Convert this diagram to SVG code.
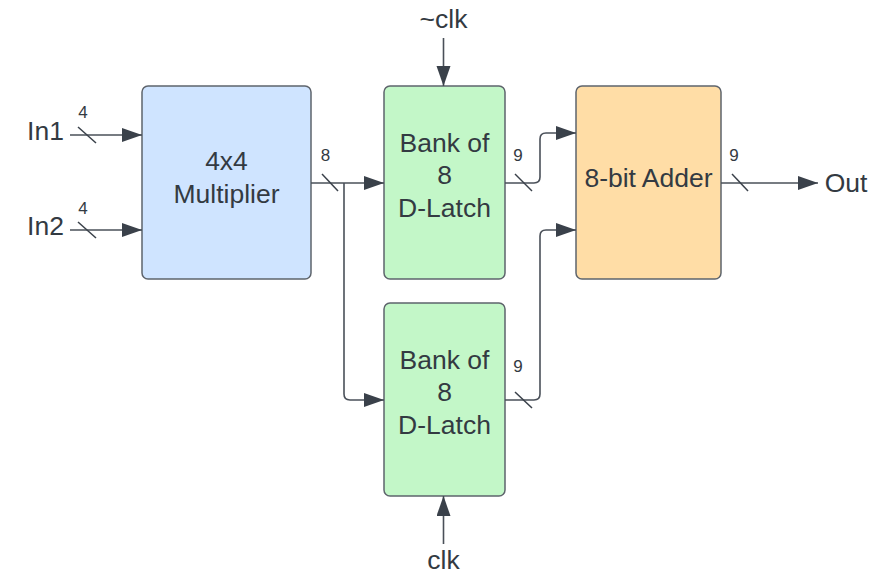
<svg xmlns="http://www.w3.org/2000/svg" width="887" height="576" viewBox="0 0 887 576">
<style>
.box{stroke:#5e646c;stroke-width:1.5}
.t{font-family:"Liberation Sans",Arial,sans-serif;fill:#333a42;font-size:26.5px;text-anchor:middle}
.s{font-family:"Liberation Sans",Arial,sans-serif;fill:#333a42;font-size:17px;text-anchor:middle}
.w{fill:none;stroke:#4a5059;stroke-width:1.6}
.sl{stroke:#3a414a;stroke-width:1.5}
</style>
<defs>
<marker id="ah" markerUnits="userSpaceOnUse" markerWidth="22" markerHeight="16" refX="20" refY="7" orient="auto">
<path d="M0,0 L20,7 L0,14 Z" fill="#3a414a"/>
</marker>
</defs>
<rect width="887" height="576" fill="#ffffff"/>
<g id="multiplier">
<rect class="box" x="142" y="86" width="169" height="193" rx="6" fill="#cfe4ff"/>
<text class="t" x="226.5" y="170">4x4</text>
<text class="t" x="226.5" y="203">Multiplier</text>
</g>
<g id="latch1">
<rect class="box" x="384" y="86" width="121" height="193" rx="6" fill="#c3f7c8"/>
<text class="t" x="444.5" y="152">Bank of</text>
<text class="t" x="444.5" y="184">8</text>
<text class="t" x="444.5" y="217">D-Latch</text>
</g>
<g id="latch2">
<rect class="box" x="384" y="303" width="121" height="193" rx="6" fill="#c3f7c8"/>
<text class="t" x="444.5" y="369">Bank of</text>
<text class="t" x="444.5" y="401">8</text>
<text class="t" x="444.5" y="434">D-Latch</text>
</g>
<g id="adder">
<rect class="box" x="576" y="86" width="145" height="193" rx="6" fill="#ffdda6"/>
<text class="t" x="648.5" y="187">8-bit Adder</text>
</g>
<g id="labels">
<text class="t" x="45.5" y="140">In1</text>
<text class="t" x="45.5" y="235">In2</text>
<text class="t" x="846" y="192">Out</text>
<text class="t" x="443.5" y="28">~clk</text>
<text class="t" x="443.5" y="569">clk</text>
<text class="s" x="83" y="118">4</text>
<text class="s" x="83" y="214">4</text>
<text class="s" x="325.5" y="161">8</text>
<text class="s" x="518" y="161">9</text>
<text class="s" x="518" y="372">9</text>
<text class="s" x="734" y="161">9</text>
</g>
<g id="connectors">
<path class="w" d="M70,135 H142" marker-end="url(#ah)"/>
<path class="w" d="M70,230 H142" marker-end="url(#ah)"/>
<path class="w" d="M311,183 H384" marker-end="url(#ah)"/>
<path class="w" d="M344,183 V394 Q344,400 350,400 H384" marker-end="url(#ah)"/>
<path class="w" d="M505,183 H534 Q540,183 540,177 V139 Q540,133 546,133 H576" marker-end="url(#ah)"/>
<path class="w" d="M505,400 H534 Q540,400 540,394 V236 Q540,230 546,230 H576" marker-end="url(#ah)"/>
<path class="w" d="M721,183 H818" marker-end="url(#ah)"/>
<path class="w" d="M443.5,38 V86" marker-end="url(#ah)"/>
<path class="w" d="M443.5,544 V496" marker-end="url(#ah)"/>
<line class="sl" x1="78" y1="127" x2="96" y2="143"/>
<line class="sl" x1="78" y1="222" x2="96" y2="238"/>
<line class="sl" x1="322" y1="174" x2="338" y2="191"/>
<line class="sl" x1="515" y1="174" x2="532" y2="191"/>
<line class="sl" x1="515" y1="392" x2="532" y2="408"/>
<line class="sl" x1="732" y1="174" x2="748" y2="191"/>
</g>
</svg>
